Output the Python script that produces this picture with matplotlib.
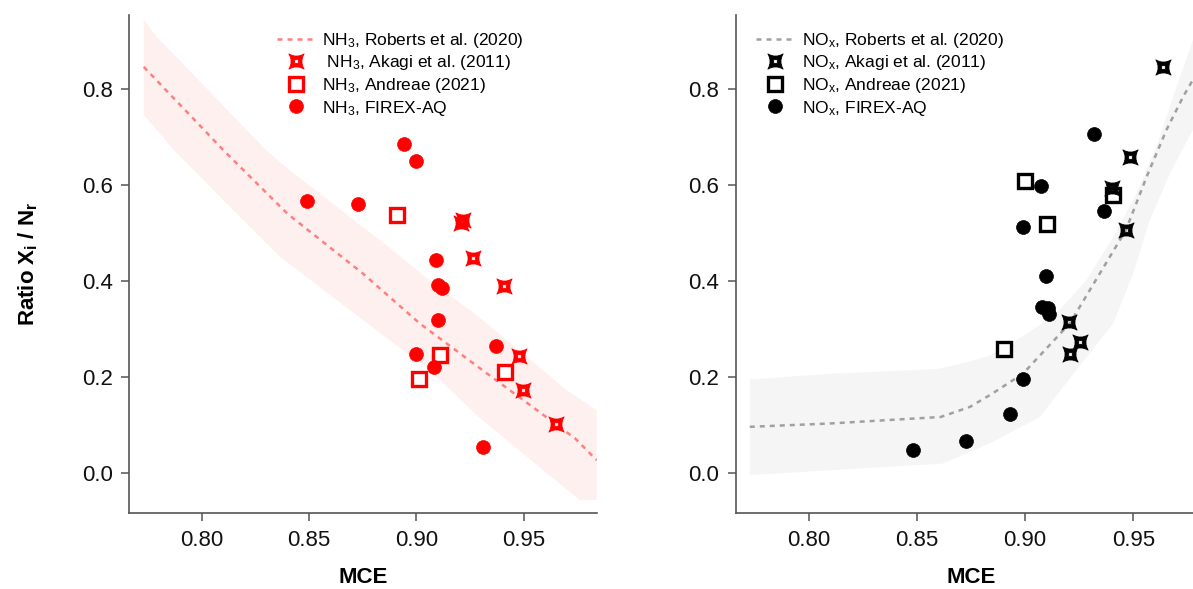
import numpy as np
import matplotlib
matplotlib.use("Agg")
import matplotlib.pyplot as plt
from matplotlib.path import Path

plt.rcParams['font.family'] = ['Liberation Sans', 'DejaVu Sans']
plt.rcParams['mathtext.fontset'] = 'custom'
plt.rcParams['mathtext.rm'] = 'Liberation Sans'
plt.rcParams['mathtext.it'] = 'Liberation Sans:italic'
plt.rcParams['mathtext.bf'] = 'Liberation Sans:bold'

# --- NH3 panel data ---
nh3_firex_mce = [0.849, 0.873, 0.894, 0.900, 0.909, 0.910, 0.912, 0.910, 0.900, 0.908, 0.937, 0.931]
nh3_firex_ratio = [0.567, 0.560, 0.685, 0.650, 0.444, 0.392, 0.386, 0.319, 0.248, 0.221, 0.265, 0.054]

nh3_akagi_mce = [0.9215, 0.9206, 0.9263, 0.9407, 0.9477, 0.9496, 0.965]
nh3_akagi_ratio = [0.528, 0.520, 0.447, 0.390, 0.244, 0.173, 0.102]

nh3_andreae_mce = [0.891, 0.911, 0.901, 0.9414]
nh3_andreae_ratio = [0.537, 0.246, 0.197, 0.211]

nh3_roberts_mce = [0.773, 0.800, 0.810, 0.840, 0.875, 0.9015, 0.930, 0.955, 0.974, 0.984]
nh3_roberts_ratio = [0.846, 0.720, 0.673, 0.540, 0.416, 0.312, 0.217, 0.135, 0.072, 0.027]
nh3_band_hi_mce = [0.773, 0.779, 0.830, 0.841, 0.8907, 0.906, 0.929, 0.970, 0.984]
nh3_band_hi = [0.944, 0.909, 0.673, 0.631, 0.458, 0.402, 0.326, 0.173, 0.131]
nh3_band_lo_mce = [0.773, 0.787, 0.810, 0.8364, 0.875, 0.906, 0.929, 0.976, 0.984]
nh3_band_lo = [0.746, 0.673, 0.569, 0.451, 0.319, 0.215, 0.117, -0.056, -0.056]

# --- NOx panel data ---
nox_firex_mce = [0.848, 0.8725, 0.893, 0.899, 0.9076, 0.9107, 0.9112, 0.9096, 0.899, 0.9072, 0.9364, 0.9318]
nox_firex_ratio = [0.048, 0.067, 0.123, 0.196, 0.347, 0.343, 0.331, 0.410, 0.513, 0.599, 0.546, 0.706]

nox_akagi_mce = [0.9639, 0.9485, 0.940, 0.9466, 0.9203, 0.9253, 0.921]
nox_akagi_ratio = [0.846, 0.659, 0.593, 0.506, 0.315, 0.274, 0.249]

nox_andreae_mce = [0.900, 0.910, 0.9405, 0.8903]
nox_andreae_ratio = [0.609, 0.518, 0.579, 0.258]

nox_roberts_mce = [0.7727, 0.810, 0.861, 0.8745, 0.8837, 0.899, 0.9207, 0.9466, 0.9562, 0.9654, 0.9731, 0.9776]
nox_roberts_ratio = [0.0965, 0.1035, 0.117, 0.138, 0.1625, 0.207, 0.312, 0.506, 0.617, 0.715, 0.784, 0.819]
nox_band_hi_mce = [0.7727, 0.810, 0.860, 0.874, 0.8837, 0.8991, 0.9146, 0.9284, 0.9408, 0.9516, 0.9608, 0.9701, 0.9776]
nox_band_hi = [0.195, 0.207, 0.217, 0.232, 0.245, 0.285, 0.333, 0.402, 0.492, 0.583, 0.680, 0.805, 0.902]
nox_band_lo_mce = [0.7727, 0.862, 0.8837, 0.9068, 0.9238, 0.9408, 0.950, 0.9577, 0.967, 0.9776]
nox_band_lo = [-0.004, 0.020, 0.062, 0.117, 0.215, 0.312, 0.416, 0.527, 0.624, 0.715]

XLIM = (0.7663, 0.984)
YLIM = (-0.083, 0.954)

# 4-point concave star with a square hole (Akagi marker)
c3 = Path.CURVE3
star_verts = [(1, -1), (0.4, 0), (1, 1), (0, 0.4), (-1, 1), (-0.4, 0), (-1, -1), (0, -0.4), (1, -1), (1, -1),
              (0.24, 0.24), (0.24, -0.24), (-0.24, -0.24), (-0.24, 0.24), (0.24, 0.24)]
star_codes = [Path.MOVETO, c3, c3, c3, c3, c3, c3, c3, c3, Path.CLOSEPOLY,
              Path.MOVETO, Path.LINETO, Path.LINETO, Path.LINETO, Path.CLOSEPOLY]
STAR = Path(star_verts, star_codes)


def band(ax, xh, yh, xl, yl, color):
    xs = np.r_[xh, xl[::-1]]
    ys = np.r_[yh, yl[::-1]]
    ax.fill(xs, ys, color=color, lw=0, zorder=1)


def style_axes(ax):
    for s in ['top', 'right']:
        ax.spines[s].set_visible(False)
    for s in ['left', 'bottom']:
        ax.spines[s].set_color('#555555')
        ax.spines[s].set_linewidth(1.2)
    ax.tick_params(direction='out', length=6, width=1.1, color='#555555',
                   labelsize=16, labelcolor='#111111', pad=6)
    ax.set_xlim(*XLIM)
    ax.set_ylim(*YLIM)
    ax.set_xticks([0.80, 0.85, 0.90, 0.95])
    ax.set_xticklabels(['0.80', '0.85', '0.90', '0.95'])
    ax.set_yticks([0.0, 0.2, 0.4, 0.6, 0.8])
    ax.set_yticklabels(['0.0', '0.2', '0.4', '0.6', '0.8'])
    ax.set_xlabel('MCE', fontsize=16, fontweight='bold', labelpad=12)


def panel(ax, color, line_color, band_color, sp, akagi_label, firex, akagi, andreae, roberts, bh, bl):
    band(ax, bh[0], bh[1], bl[0], bl[1], band_color)
    ax.plot(roberts[0], roberts[1], color=line_color, lw=1.8, ls=(0, (2, 2)), zorder=2,
            label=sp + ', Roberts et al. (2020)')
    ax.plot(akagi[0], akagi[1], ls='none', marker=STAR, ms=11, mfc=color, mec=color, mew=0.6,
            zorder=4, label=akagi_label)
    ax.plot(andreae[0], andreae[1], ls='none', marker='s', ms=10, mfc='white', mec=color, mew=2.4,
            zorder=3, label=sp + ', Andreae (2021)')
    ax.plot(firex[0], firex[1], ls='none', marker='o', ms=10, mfc=color, mec=color, mew=0.5,
            zorder=5, label=sp + ', FIREX-AQ')
    style_axes(ax)


fig = plt.figure(figsize=(11.93, 5.89), dpi=100)
ax1 = fig.add_axes([0.1084, 0.129, 0.3918, 0.8455])
ax2 = fig.add_axes([0.6169, 0.129, 0.3946, 0.8455])

panel(ax1, 'red', '#ff7f7f', '#fff0f0', 'NH$_3$', ' NH$_3$, Akagi et al. (2011)',
      (nh3_firex_mce, nh3_firex_ratio), (nh3_akagi_mce, nh3_akagi_ratio),
      (nh3_andreae_mce, nh3_andreae_ratio), (nh3_roberts_mce, nh3_roberts_ratio),
      (nh3_band_hi_mce, nh3_band_hi), (nh3_band_lo_mce, nh3_band_lo))
panel(ax2, 'black', '#a0a0a0', '#f5f5f5', r'NO$_\mathrm{x}$', r'NO$_\mathrm{x}$, Akagi et al. (2011)',
      (nox_firex_mce, nox_firex_ratio), (nox_akagi_mce, nox_akagi_ratio),
      (nox_andreae_mce, nox_andreae_ratio), (nox_roberts_mce, nox_roberts_ratio),
      (nox_band_hi_mce, nox_band_hi), (nox_band_lo_mce, nox_band_lo))

ax1.set_ylabel(r'Ratio X$_\mathbf{i}$ / N$_\mathbf{r}$', fontsize=16, fontweight='bold', labelpad=30)

for ax, bx in [(ax1, 0.232), (ax2, 0.634)]:
    ax.legend(loc='upper left', bbox_to_anchor=(bx, 0.948), bbox_transform=fig.transFigure,
              frameon=False, fontsize=12.5, handlelength=2.2, handletextpad=0.4,
              labelspacing=0.21, borderpad=0, borderaxespad=0)

fig.savefig('out.png', dpi=100)
